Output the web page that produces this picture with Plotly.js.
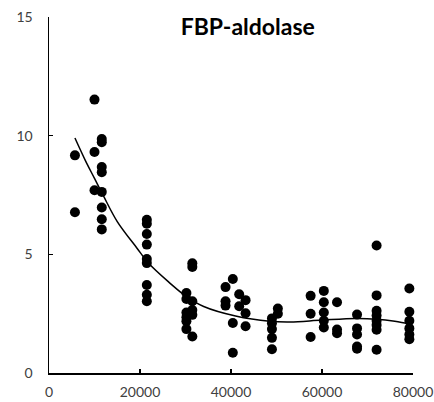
<!DOCTYPE html>
<html>
<head>
<meta charset="utf-8">
<script src="https://cdn.plot.ly/plotly-3.0.1.min.js"></script>
<style>html,body{margin:0;padding:0;background:#fff;}#chart{width:434px;height:402px;}</style>
</head>
<body>
<div id="chart"></div>
<script>
// Observed points (x, y)
var pointX = [
  5700, 5700,
  10000, 10000, 10000,
  11600, 11600, 11600, 11600, 11600, 11600, 11600, 11600,
  21500, 21500, 21500, 21500, 21500, 21500, 21500, 21500, 21500,
  30200, 30200, 30200, 30200, 30200, 30200,
  31500, 31500, 31500, 31500, 31500, 31500,
  38800, 38800, 38800,
  40400, 40400, 40400,
  41800, 41800,
  43200, 43200, 43200,
  49000, 49000, 49000, 49000, 49000,
  50300, 50300,
  57500, 57500, 57500,
  60400, 60400, 60400, 60400, 60400,
  63300, 63300, 63300,
  67700, 67700, 67700, 67700, 67700,
  72000, 72000, 72000, 72000, 72000, 72000, 72000, 72000,
  79200, 79200, 79200, 79200, 79200, 79200
];
var pointY = [
  9.17, 6.77,
  11.52, 9.31, 7.70,
  9.86, 9.72, 8.68, 8.46, 7.63, 6.97, 6.48, 6.05,
  6.46, 6.29, 5.86, 5.41, 4.80, 4.63, 3.71, 3.30, 3.02,
  3.37, 3.12, 2.55, 2.35, 2.18, 1.85,
  4.62, 4.47, 3.02, 2.65, 2.45, 1.54,
  3.62, 3.02, 2.84,
  3.96, 2.11, 0.85,
  3.32, 2.81,
  3.07, 2.52, 1.97,
  2.30, 2.10, 1.85, 1.48, 1.00,
  2.72, 2.50,
  3.25, 2.50, 1.52,
  3.46, 2.98, 2.55, 2.20, 1.92,
  2.98, 1.83, 1.68,
  2.46, 1.88, 1.62, 1.12, 1.02,
  5.37, 3.27, 2.62, 2.42, 2.20, 2.02, 1.82, 0.98,
  3.56, 2.58, 2.20, 1.88, 1.62, 1.42
];
// Trend line
var trendX = [5700, 8000, 10000, 12000, 15000, 19300, 22000, 26500, 30000, 34000, 41000, 48500, 53000, 60000, 67500, 72000, 76000, 79600];
var trendY = [9.9, 8.95, 8.2, 7.45, 6.38, 5.27, 4.6, 3.8, 3.25, 2.8, 2.4, 2.18, 2.15, 2.23, 2.3, 2.27, 2.18, 2.05];
var xTicks = [0, 20000, 40000, 60000, 80000];
var yTicks = [0, 5, 10, 15];
var chartTitle = 'FBP-aldolase';

var font = 'Lato, "Open Sans", "Liberation Sans", sans-serif';
var data = [
  {x: pointX, y: pointY, type: 'scatter', mode: 'markers',
   marker: {color: '#000', size: 10}, hoverinfo: 'skip', cliponaxis: false},
  {x: trendX, y: trendY, type: 'scatter', mode: 'lines',
   line: {color: '#000', width: 1.5, shape: 'spline', smoothing: 1}, hoverinfo: 'skip'}
];
var layout = {
  width: 434, height: 402,
  margin: {l: 49, r: 21, t: 17, b: 29},
  paper_bgcolor: '#fff', plot_bgcolor: '#fff',
  showlegend: false,
  font: {family: font, size: 14, color: '#404040'},
  title: {text: '<b>' + chartTitle + '</b>', font: {family: font, size: 23, color: '#000'},
          xref: 'paper', x: 0.546, xanchor: 'center', yref: 'container', y: 0.934, yanchor: 'middle'},
  xaxis: {range: [0, 80000], tickvals: xTicks, ticktext: xTicks.map(String),
          showline: true, linecolor: '#000', linewidth: 1.5, showgrid: false, zeroline: false,
          ticks: 'inside', ticklen: 4, tickcolor: '#000', tickwidth: 1.5, ticklabelstandoff: 6, fixedrange: true},
  yaxis: {range: [0, 15], tickvals: yTicks, ticktext: yTicks.map(String),
          showline: true, linecolor: '#000', linewidth: 1.5, showgrid: false, zeroline: false,
          ticks: 'inside', ticklen: 4, tickcolor: '#000', tickwidth: 1.5, ticklabelstandoff: 12, fixedrange: true}
};
Plotly.newPlot('chart', data, layout, {staticPlot: true});
</script>
</body>
</html>
